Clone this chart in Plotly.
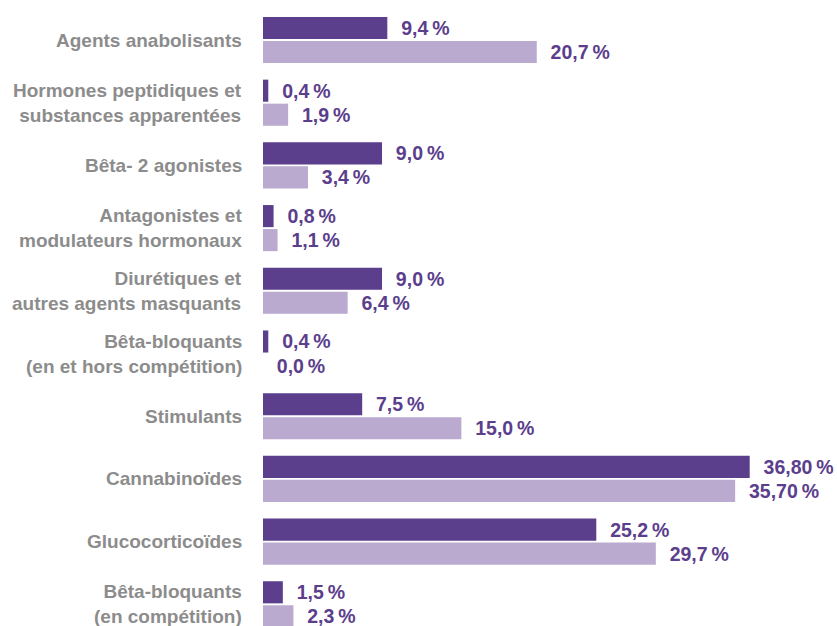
import plotly.graph_objects as go

# Substance classes (top to bottom)
categories = [
    "Agents anabolisants",
    "Hormones peptidiques et<br>substances apparentées",
    "Bêta- 2 agonistes",
    "Antagonistes et<br>modulateurs hormonaux",
    "Diurétiques et<br>autres agents masquants",
    "Bêta-bloquants<br>(en et hors compétition)",
    "Stimulants",
    "Cannabinoïdes",
    "Glucocorticoïdes",
    "Bêta-bloquants<br>(en compétition)",
]

# Share of adverse findings (%), two series
series_a = [9.4, 0.4, 9.0, 0.8, 9.0, 0.4, 7.5, 36.80, 25.2, 1.5]
series_b = [20.7, 1.9, 3.4, 1.1, 6.4, 0.0, 15.0, 35.70, 29.7, 2.3]

labels_a = ["9,4", "0,4", "9,0", "0,8", "9,0", "0,4", "7,5", "36,80", "25,2", "1,5"]
labels_b = ["20,7", "1,9", "3,4", "1,1", "6,4", "0,0", "15,0", "35,70", "29,7", "2,3"]

DARK = "#5b3e8c"
LIGHT = "#baaad0"
LABEL_FONT = "Liberation Sans, Arial, sans-serif"
PAD = "\u00a0\u00a0"

cat_ids = list(range(len(categories)))


def fmt(lbls):
    return [PAD + s + "\u2009%" for s in lbls]


fig = go.Figure()
for vals, lbls, color in ((series_a, labels_a, DARK), (series_b, labels_b, LIGHT)):
    fig.add_trace(go.Bar(
        y=cat_ids, x=vals, orientation="h",
        marker=dict(color=color, line=dict(width=0)),
        text=fmt(lbls), textposition="outside", cliponaxis=False,
        constraintext="none",
        textfont=dict(family=LABEL_FONT, size=19.5, color=DARK, weight="bold"),
    ))

# Category names to the left of each bar pair
for i, name in zip(cat_ids, categories):
    fig.add_annotation(
        x=0, xref="paper", xanchor="right", xshift=-19,
        y=i, yref="y", yanchor="middle",
        text=name, align="right", showarrow=False,
        font=dict(family=LABEL_FONT, size=19, color="#8c8c8c", weight="bold"),
    )

fig.update_layout(
    width=837, height=626,
    margin=dict(l=263, r=0, t=0, b=0),
    paper_bgcolor="white", plot_bgcolor="white",
    barmode="group", bargap=0.234, bargroupgap=0.08,
    showlegend=False,
    xaxis=dict(range=[0, 43.4], visible=False),
    yaxis=dict(range=[9.346, -0.638], visible=False),
)

fig.write_html("out.html")
